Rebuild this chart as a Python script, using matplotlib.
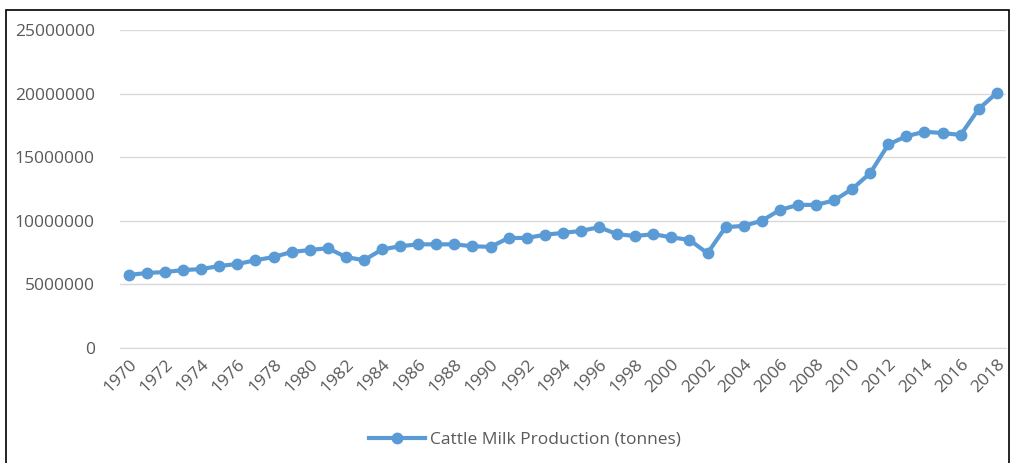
import matplotlib.pyplot as plt
from matplotlib.patches import Rectangle

years = list(range(1970, 2019))
milk = [5.74, 5.90, 5.97, 6.13, 6.20, 6.45, 6.60, 6.90, 7.15, 7.55,
        7.70, 7.85, 7.15, 6.90, 7.75, 8.00, 8.15, 8.15, 8.15, 8.00,
        7.95, 8.65, 8.65, 8.90, 9.05, 9.20, 9.50, 8.95, 8.80, 8.95,
        8.70, 8.50, 7.45, 9.50, 9.60, 10.00, 10.85, 11.25, 11.25, 11.60,
        12.50, 13.75, 16.00, 16.65, 17.00, 16.90, 16.75, 18.80, 20.05]
milk = [v * 1e6 for v in milk]
ytick_vals = [0, 5000000, 10000000, 15000000, 20000000, 25000000]
xtick_years = years[::2]

plt.rcParams['font.family'] = ['Open Sans', 'DejaVu Sans']
grey = '#595959'
blue = '#5B9BD5'

fig = plt.figure(figsize=(10.16, 4.63), dpi=100)
ax = fig.add_axes([0.118, 0.2484, 0.872, 0.6868])

ax.plot(years, milk, color=blue, linewidth=3, marker='o', markersize=7.5,
        label='Cattle Milk Production (tonnes)')

ax.set_xlim(1969.5, 2018.5)
ax.set_ylim(0, 25000000)
ax.set_yticks(ytick_vals)
ax.set_yticklabels([str(v) for v in ytick_vals], fontsize=12.5, color=grey)
ax.set_xticks(xtick_years)
ax.set_xticklabels([str(y) for y in xtick_years], fontsize=12.5, color=grey,
                   rotation=45, ha='right', rotation_mode='anchor')
ax.tick_params(axis='y', length=0, pad=18)
ax.tick_params(axis='x', length=0, pad=6)
ax.grid(axis='y', color='#d9d9d9', linewidth=1)
ax.set_axisbelow(True)
for s in ['top', 'right', 'left']:
    ax.spines[s].set_visible(False)
ax.spines['bottom'].set_color('#d9d9d9')

fig.legend(loc='center', bbox_to_anchor=(0.517, 0.05), frameon=False,
           fontsize=12.5, labelcolor=grey, handlelength=3.2, handletextpad=0.3)

# outer chart border
fig.patches.append(Rectangle((6 / 1016, -0.1), 1003 / 1016, 1.1 - 10 / 463,
                             transform=fig.transFigure, fill=False,
                             edgecolor='black', linewidth=1.2))

fig.savefig('out.png', dpi=100)
